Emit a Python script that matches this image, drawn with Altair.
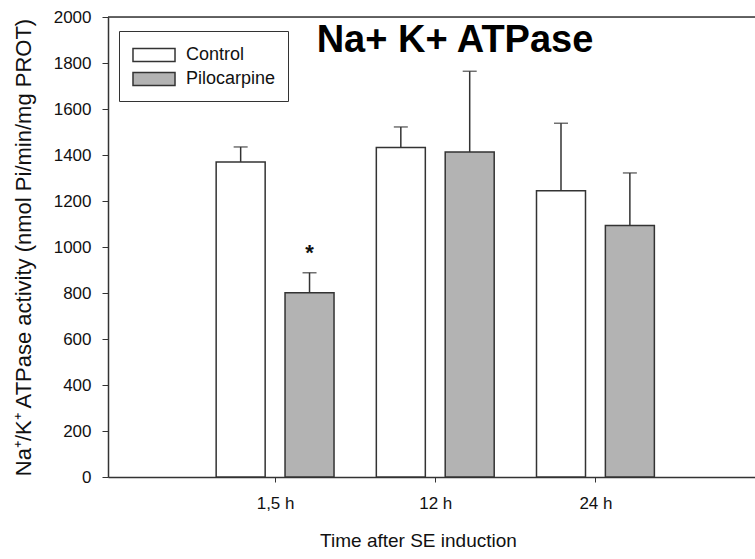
import altair as alt
import pandas as pd

times = ["1,5 h", "12 h", "24 h"]
time_pos = [1, 2, 3]
groups = ["Control", "Pilocarpine"]
control_mean = [1370, 1433, 1245]
control_err = [65, 89, 293]
pilo_mean = [801, 1413, 1093]
pilo_err = [87, 351, 229]
star_time = [1]
star_value = [995]
y_ticks = [0, 200, 400, 600, 800, 1000, 1200, 1400, 1600, 1800, 2000]

rows = []
for t, p, m, e in zip(times, time_pos, control_mean, control_err):
    rows.append({"time": t, "pos": p, "group": "Control", "mean": m, "err": e})
for t, p, m, e in zip(times, time_pos, pilo_mean, pilo_err):
    rows.append({"time": t, "pos": p, "group": "Pilocarpine", "mean": m, "err": e})
df = pd.DataFrame(rows)

star_df = pd.DataFrame({"pos": star_time, "value": star_value, "group": ["Pilocarpine"], "label": ["*"]})

FONT = "Liberation Sans"
DARK = "#333333"

xscale = alt.Scale(domain=[-0.012, 3.965], nice=False, zero=False)
yscale = alt.Scale(domain=[0, 2000], nice=False)

label_expr = "datum.value == 1 ? '1,5 h' : datum.value == 2 ? '12 h' : '24 h'"

base = alt.Chart(df).transform_calculate(
    xpos="datum.pos + (datum.group == 'Control' ? -0.215 : 0.215)",
    top="datum.mean + datum.err",
)

xaxis = alt.Axis(
    values=time_pos, labelExpr=label_expr, title="Time after SE induction",
    grid=False, tickSize=5, labelFontSize=17, titleFontSize=19,
    labelPadding=13, titlePadding=20, titleFontWeight="normal",
    titleX=310, domainColor=DARK, tickColor=DARK, labelColor="#111",
    titleColor="#111", labelFont=FONT, titleFont=FONT, domainWidth=1.5,
)
yaxis = alt.Axis(
    values=y_ticks, format="d",
    title="Na\u207a/K\u207a ATPase activity (nmol Pi/min/mg PROT)",
    grid=False, tickSize=6, labelPadding=11, labelFontSize=17, titleFontSize=22,
    titleFontWeight="normal", titleX=-85, titleBaseline="middle",
    domainColor=DARK, tickColor=DARK,
    labelColor="#111", titleColor="#111", labelFont=FONT, titleFont=FONT,
    domainWidth=1.5,
)

bars = base.mark_bar(size=49, stroke=DARK, strokeWidth=1.5).encode(
    x=alt.X("xpos:Q", scale=xscale, axis=xaxis),
    y=alt.Y("mean:Q", scale=yscale, axis=yaxis),
    color=alt.Color(
        "group:N",
        scale=alt.Scale(domain=groups, range=["#ffffff", "#b3b3b3"]),
        legend=alt.Legend(
            title=None, orient="none", legendX=11, legendY=14,
            strokeColor=DARK, padding=12, fillColor="white",
            symbolType="M-0.91,-0.58H2.91V0.58H-0.91Z", symbolSize=484,
            symbolStrokeColor=DARK, symbolStrokeWidth=1.5, symbolOpacity=1,
            labelFontSize=18, labelFont=FONT, labelColor="#111",
            rowPadding=2, labelOffset=31,
        ),
    ),
)

rules = base.mark_rule(color=DARK, strokeWidth=1.5).encode(
    x="xpos:Q", y="mean:Q", y2="top:Q"
)
caps = base.mark_tick(orient="horizontal", size=14, thickness=1.5, color=DARK).encode(
    x="xpos:Q", y="top:Q"
)

star = alt.Chart(star_df).transform_calculate(
    xpos="datum.pos + 0.215"
).mark_text(text="*", fontSize=22, font=FONT, fontWeight="bold", color="#111",
            baseline="alphabetic", dy=12).encode(
    x="xpos:Q", y="value:Q"
)

top_border = alt.Chart(pd.DataFrame({"v": [2000]})).mark_rule(
    color=DARK, strokeWidth=1.5
).encode(y="v:Q", x=alt.value(0), x2=alt.value(647))

title = alt.Chart(pd.DataFrame({"t": ["Na+ K+ ATPase"]})).mark_text(
    fontSize=38, fontWeight="bold", font=FONT, color="#000", baseline="alphabetic",
    align="center"
).encode(text="t:N", x=alt.value(347), y=alt.value(35))

chart = alt.layer(bars, rules, caps, star, top_border, title).properties(
    width=647, height=460,
    autosize=alt.AutoSizeParams(type="none"),
    padding={"left": 108, "top": 17, "right": 0, "bottom": 82},
).configure_view(stroke=None).configure(background="white")

chart.save("out.html", embed_options={"renderer": "svg", "actions": False})
